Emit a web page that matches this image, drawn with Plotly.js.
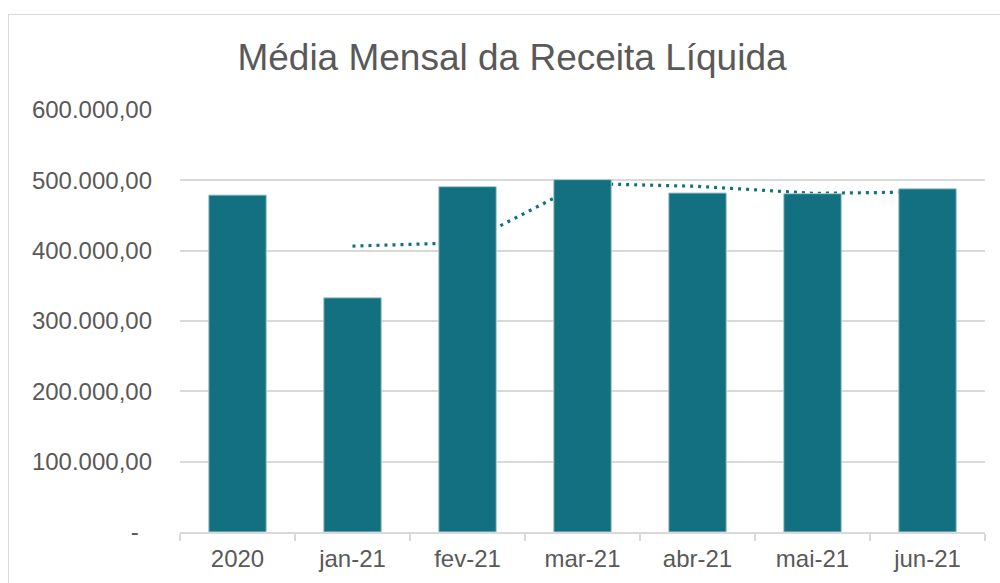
<!DOCTYPE html>
<html>
<head>
<meta charset="utf-8">
<script src="https://cdn.plot.ly/plotly-3.0.1.min.js"></script>
<style>
  html, body { margin: 0; padding: 0; background: #ffffff; overflow: hidden; }
  #frame { position: absolute; left: 8px; top: 14px; width: 1100px; height: 800px;
           border: 1.5px solid #d9d9d9; z-index: 0; }
  #chart { position: absolute; left: 0; top: 0; width: 1000px; height: 583px; z-index: 1; }
</style>
</head>
<body>
<div id="frame"></div>
<div id="chart"></div>
<script>
// Data
const categories = ["2020", "jan-21", "fev-21", "mar-21", "abr-21", "mai-21", "jun-21"];
const receita = [479000, 333000, 491000, 501000, 482000, 481000, 488000];
const mediaMovelCats = ["jan-21", "fev-21", "mar-21", "abr-21", "mai-21", "jun-21"];
const mediaMovel = [406500, 411500, 495500, 491500, 481500, 483500];
const yTickVals = [0, 100000, 200000, 300000, 400000, 500000, 600000];
const yTickText = ["-\u00a0\u00a0", "100.000,00", "200.000,00", "300.000,00", "400.000,00", "500.000,00", "600.000,00"];

const teal = "#127080";
const grey = "#595959";
const gridc = "#d9d9d9";

const lineTrace = {
  type: "scatter", mode: "lines",
  x: mediaMovelCats, y: mediaMovel,
  xaxis: "x", yaxis: "y",
  line: { color: teal, width: 3.2, dash: "3px,5px" },
  hoverinfo: "skip", showlegend: false
};
const barTrace = {
  type: "bar",
  x: categories, y: receita,
  xaxis: "x2", yaxis: "y2",
  marker: { color: teal, line: { color: "#a7cbd1", width: 1 } },
  showlegend: false
};

const layout = {
  width: 1000, height: 583,
  margin: { l: 180, r: 15, t: 110, b: 51, pad: 0 },
  paper_bgcolor: "rgba(0,0,0,0)",
  plot_bgcolor: "rgba(0,0,0,0)",
  bargap: 0.5,
  font: { family: "Liberation Sans, Arial, sans-serif", color: grey },
  title: {
    text: "Média Mensal da Receita Líquida",
    font: { size: 37, color: grey, family: "Liberation Sans, Arial, sans-serif" },
    xref: "container", x: 0.512, xanchor: "center",
    yref: "container", y: 1 - 57 / 583, yanchor: "middle"
  },
  xaxis: {
    type: "category", categoryorder: "array", categoryarray: categories,
    range: [-0.5, 6.5], fixedrange: true,
    showgrid: false, showline: true, linecolor: gridc, linewidth: 2,
    ticks: "outside", tickson: "boundaries", ticklen: 7, tickcolor: gridc, tickwidth: 2,
    tickfont: { size: 24, color: grey }, ticklabelstandoff: 4,
    zeroline: false
  },
  yaxis: {
    range: [0, 600000], fixedrange: true,
    tickvals: yTickVals, ticktext: yTickText,
    showgrid: true, gridcolor: gridc, gridwidth: 2,
    showline: false, zeroline: false, ticks: "",
    tickfont: { size: 24, color: grey }, ticklabelstandoff: 27
  },
  xaxis2: {
    type: "category", categoryorder: "array", categoryarray: categories,
    range: [-0.5, 6.5], overlaying: "x", visible: false, fixedrange: true
  },
  yaxis2: {
    range: [0, 600000], overlaying: "y", visible: false, fixedrange: true
  }
};

Plotly.newPlot("chart", [lineTrace, barTrace], layout, { displayModeBar: false, staticPlot: true });
</script>
</body>
</html>
